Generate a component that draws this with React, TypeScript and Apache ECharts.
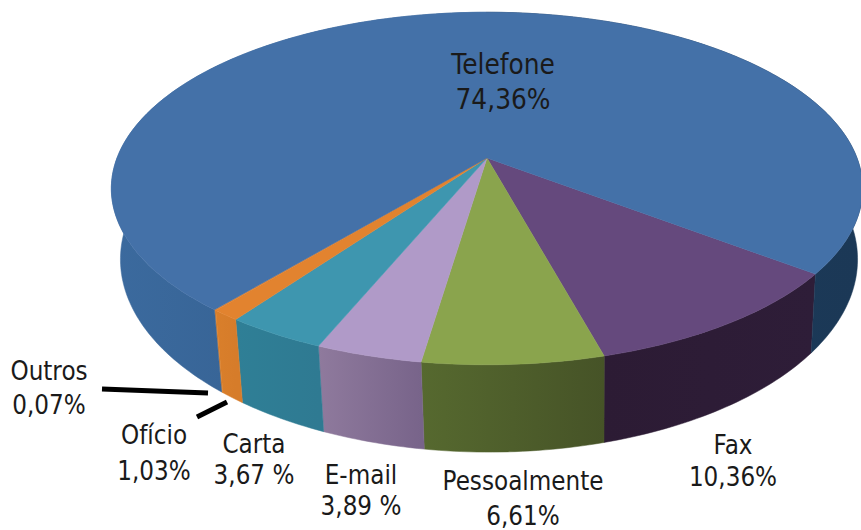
import React, { useEffect, useRef } from "react";
import * as echarts from "echarts";

// Data, in the order the slices run round the pie
const names = ["Fax", "Pessoalmente", "E-mail", "Carta", "Ofício", "Outros", "Telefone"];
const values = [10.36, 6.61, 3.89, 3.67, 1.03, 0.07, 74.36];
const valueLabels = ["10,36%", "6,61%", "3,89 %", "3,67 %", "1,03%", "0,07%", "74,36%"];

// Styles
const topColors = ["#65497d", "#8aa44d", "#b09ac8", "#3e96af", "#e2832f", "#e2832f", "#4471a8"];
const wallColors: [string, string][] = [
  ["#2c1b34", "#2e1d38"],
  ["#56692f", "#465327"],
  ["#8f7a9d", "#78648a"],
  ["#2f7f96", "#2f7a92"],
  ["#d97f2b", "#d67c2a"],
  ["#d97f2b", "#d97f2b"],
  ["#3a699d", "#1b3856"],
];

// Label layout
const labelLayout: Record<string, { x: number; y1: number; y2: number; size: number }> = {
  Telefone: { x: 503, y1: 64, y2: 99, size: 28 },
  Outros: { x: 49, y1: 371, y2: 405, size: 26 },
  "Ofício": { x: 154, y1: 435, y2: 471, size: 26 },
  Carta: { x: 254, y1: 444, y2: 475, size: 26 },
  "E-mail": { x: 361, y1: 475, y2: 506, size: 26 },
  Pessoalmente: { x: 523, y1: 481, y2: 516, size: 26 },
  Fax: { x: 733, y1: 445, y2: 477, size: 26 },
};
const labelScaleX = 0.89;
const leaderLines = [
  [102, 389, 208, 393],
  [197, 417, 227, 402],
];

// Perspective projection of the pie
const CX = 487;
const CY = 158;
const K = 0.173;
const START_DEG = 52.6;
const total = values.reduce((a, b) => a + b, 0);

function topPoint(phi: number): number[] {
  const X = Math.sin(phi);
  const Y = Math.cos(phi);
  const d = 1 - K * Y;
  return [CX + (370 * X) / d, CY + (171 * Y) / d];
}
function bottomPoint(phi: number): number[] {
  const X = Math.sin(phi);
  const Y = Math.cos(phi);
  const d = 1 - K * Y;
  return [CX + 2 + (363 * X) / d, CY + 68 + (187 * Y) / d];
}
function sliceAngles(i: number): [number, number] {
  let before = 0;
  for (let j = 0; j < i; j++) before += values[j];
  const a0 = (START_DEG * Math.PI) / 180 - (before / total) * Math.PI * 2;
  const a1 = a0 - (values[i] / total) * Math.PI * 2;
  return [a0, a1];
}
function arc(fn: (p: number) => number[], a0: number, a1: number): number[][] {
  const n = Math.max(2, Math.ceil((Math.abs(a1 - a0) * 180) / Math.PI));
  const pts: number[][] = [];
  for (let k = 0; k <= n; k++) pts.push(fn(a0 + ((a1 - a0) * k) / n));
  return pts;
}

function renderWall(params: any) {
  const i = params.dataIndex;
  const [a0, a1] = sliceAngles(i);
  const top = arc(topPoint, a0, a1);
  const bottom = arc(bottomPoint, a0, a1).reverse();
  const isTel = names[i] === "Telefone";
  const fill = new echarts.graphic.LinearGradient(
    isTel ? 112 : top[top.length - 1][0],
    0,
    isTel ? 861 : top[0][0],
    0,
    isTel
      ? [
          { offset: 0, color: "#3b6a9e" },
          { offset: 0.15, color: "#386597" },
          { offset: 0.5, color: "#386597" },
          { offset: 0.5, color: "#1d3c5c" },
          { offset: 1, color: "#1b3856" },
        ]
      : [
          { offset: 0, color: wallColors[i][0] },
          { offset: 1, color: wallColors[i][1] },
        ],
    true
  );
  return {
    type: "polygon",
    shape: { points: [...top, ...bottom] },
    style: { fill, stroke: fill, lineWidth: 0.5 },
  };
}

function renderTop(params: any) {
  const i = params.dataIndex;
  const [a0, a1] = sliceAngles(i);
  return {
    type: "polygon",
    shape: { points: [[CX, CY], ...arc(topPoint, a0, a1)] },
    style: { fill: topColors[i], stroke: topColors[i], lineWidth: 0.5 },
  };
}

export default function App() {
  const ref = useRef<HTMLDivElement>(null);
  useEffect(() => {
    document.body.style.margin = "0";
    const chart = echarts.init(ref.current!, null, { renderer: "svg" });
    const labelFont = "DejaVu Sans";
    const textEls: any[] = [];
    names.forEach((name, i) => {
      const l = labelLayout[name];
      [name, valueLabels[i]].forEach((t, j) => {
        textEls.push({
          type: "text",
          x: l.x,
          y: j === 0 ? l.y1 : l.y2,
          scaleX: labelScaleX,
          z: 10,
          style: {
            text: t,
            fontFamily: labelFont,
            fontSize: l.size,
            fill: "#1a1a1a",
            align: "center",
            verticalAlign: "middle",
          },
        });
      });
    });
    leaderLines.forEach((s) => {
      textEls.push({
        type: "line",
        z: 10,
        shape: { x1: s[0], y1: s[1], x2: s[2], y2: s[3] },
        style: { stroke: "#000000", lineWidth: 5 },
      });
    });
    chart.setOption({
      animation: false,
      backgroundColor: "#ffffff",
      series: [
        {
          type: "custom",
          coordinateSystem: "none",
          silent: true,
          z: 1,
          data: values,
          renderItem: renderWall,
        },
        {
          type: "custom",
          coordinateSystem: "none",
          silent: true,
          z: 2,
          data: values,
          renderItem: renderTop,
        },
      ],
      graphic: textEls,
    });
    return () => chart.dispose();
  }, []);
  return <div ref={ref} style={{ width: 861, height: 530, overflow: "hidden" }} />;
}
